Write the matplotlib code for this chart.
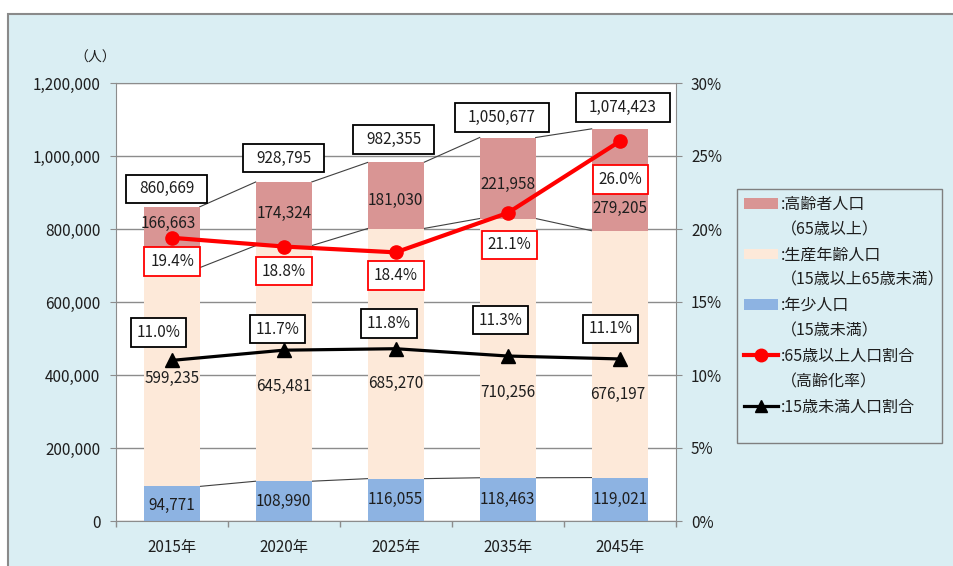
import matplotlib
matplotlib.use("Agg")
import matplotlib.pyplot as plt
from matplotlib.patches import Rectangle, Patch
from matplotlib.lines import Line2D
from matplotlib.ticker import FuncFormatter, FixedLocator
import numpy as np

plt.rcParams['font.family'] = ['Noto Sans CJK JP', 'DejaVu Sans']

# ---------------- data ----------------
years = ["2015年", "2020年", "2025年", "2035年", "2045年"]
young = [94771, 108990, 116055, 118463, 119021]          # 年少人口
working = [599235, 645481, 685270, 710256, 676197]       # 生産年齢人口
elderly = [166663, 174324, 181030, 221958, 279205]       # 高齢者人口
totals = [860669, 928795, 982355, 1050677, 1074423]
pct65 = [19.4, 18.8, 18.4, 21.1, 26.0]
pct15 = [11.0, 11.7, 11.8, 11.3, 11.1]
left_ticks = [0, 200000, 400000, 600000, 800000, 1000000, 1200000]
right_ticks = [0, 5, 10, 15, 20, 25, 30]
legend_main = [":高齢者人口", ":生産年齢人口", ":年少人口",
               ":65歳以上人口割合", ":15歳未満人口割合"]
legend_sub = ["（65歳以上）", "（15歳以上65歳未満）", "（15歳未満）",
              "（高齢化率）", None]
unit_label = "（人）"

# ---------------- style ----------------
W, H = 954, 566
DPI = 100
C_OLD = "#D99594"
C_WORK = "#FDE9D9"
C_YOUNG = "#8DB3E2"
C_BG = "#DAEEF3"
C_GRID = "#8C8C8C"
C_TEXT = "#1E1E1E"
FS = 11

fig = plt.figure(figsize=(W / DPI, H / DPI), dpi=DPI)
fig.patch.set_facecolor("white")
bg = Rectangle((8 / W, -0.5), 2.0, 1.5 - 13.5 / H, transform=fig.transFigure,
               facecolor=C_BG, edgecolor="#8A8A8A", lw=1.5, zorder=-5)
fig.add_artist(bg)

ax = fig.add_axes([115.7 / W, (H - 521) / H, 560 / W, 438 / H])
ax.set_facecolor("white")
ax2 = ax.twinx()
ax2.patch.set_visible(False)

x = np.arange(len(years))
bw = 0.5
b1 = np.array(young)
b2 = b1 + np.array(working)
b3 = b2 + np.array(elderly)

ax.bar(x, young, bw, color=C_YOUNG, zorder=2)
ax.bar(x, working, bw, bottom=b1, color=C_WORK, zorder=2)
ax.bar(x, elderly, bw, bottom=b2, color=C_OLD, zorder=2)

# series lines connecting bar segments
for level in (b1, b2, b3):
    for i in range(len(x) - 1):
        ax.plot([x[i] + bw / 2, x[i + 1] - bw / 2], [level[i], level[i + 1]],
                color="#404040", lw=0.8, zorder=1.5)

ax.set_xlim(-0.5, len(x) - 0.5)
ax.set_ylim(0, 1200000)
ax.yaxis.set_major_locator(FixedLocator(left_ticks))
ax.yaxis.set_major_formatter(FuncFormatter(lambda v, p: f"{int(v):,}"))
ax.grid(axis="y", color=C_GRID, lw=1, zorder=0)
ax.set_axisbelow(True)
ax.set_xticks(x)
ax.set_xticklabels(years)
ax.set_xticks(np.arange(-0.5, len(x)), minor=True)
ax.tick_params(axis="x", which="major", length=0, pad=13, labelsize=FS, labelcolor=C_TEXT)
ax.tick_params(axis="x", which="minor", length=4, color=C_GRID, width=1)
ax.tick_params(axis="y", length=4, pad=7, color=C_GRID, labelsize=FS, labelcolor=C_TEXT)
for s in ("left", "bottom", "top"):
    ax.spines[s].set_color(C_GRID)
ax.spines["right"].set_visible(False)

ax2.set_ylim(0, 30)
ax2.yaxis.set_major_locator(FixedLocator(right_ticks))
ax2.yaxis.set_major_formatter(FuncFormatter(lambda v, p: f"{int(v)}%"))
ax2.tick_params(axis="y", length=4, pad=7, color=C_GRID, labelsize=FS, labelcolor=C_TEXT)
for s in ("left", "bottom", "top"):
    ax2.spines[s].set_visible(False)
ax2.spines["right"].set_color(C_GRID)

ax2.plot(x, pct65, color="#FF0000", lw=3, marker="o", ms=9.5, zorder=5)
ax2.plot(x, pct15, color="black", lw=2.3, marker="^", ms=10, zorder=5)

PX = 72 / DPI  # pixel -> points

def lab(val_y, i, txt, dx, dy, trans, box=None):
    kw = {}
    if box is not None:
        kw["bbox"] = box
    ax2.annotate(txt, xy=(x[i], val_y), xycoords=trans,
                 xytext=(dx * PX, -dy * PX), textcoords="offset points",
                 ha="center", va="center", fontsize=FS, color=C_TEXT, zorder=10, **kw)

# totals (dx, px above top)
tot_off = [(-5, 18), (0, 24), (-2, 23), (-6, 20), (3, 21.5)]
for i in range(len(x)):
    dx, up = tot_off[i]
    lab(b3[i], i, f"{totals[i]:,}", dx, -up, ax.transData,
        dict(boxstyle="square,pad=0.85", mutation_aspect=0.45,
             facecolor="white", edgecolor="black", lw=1.3))

# elderly labels (px down from segment centre)
old_off = [(-3, -14), (0, 0), (0, 5), (0, 6), (0, 29)]
for i in range(len(x)):
    dx, dn = old_off[i]
    lab((b2[i] + b3[i]) / 2, i, f"{elderly[i]:,}", dx, dn, ax.transData)

work_off = [(0, 1), (0, 23), (0, 30), (0, 44), (-2, 40)]
for i in range(len(x)):
    dx, dn = work_off[i]
    lab((b1[i] + b2[i]) / 2, i, f"{working[i]:,}", dx, dn, ax.transData)

young_off = [(0, 2), (0, 0), (0, 0), (0, 0), (0, 0)]
for i in range(len(x)):
    dx, dn = young_off[i]
    lab(b1[i] / 2, i, f"{young[i]:,}", dx, dn, ax.transData)

red_off = [(0.5, 24), (0, 24.5), (0, 23), (2, 32), (1, 38)]
for i in range(len(x)):
    dx, dn = red_off[i]
    lab(pct65[i], i, f"{pct65[i]:.1f}%", dx, dn, ax2.transData,
        dict(boxstyle="square,pad=0.38", mutation_aspect=1.0,
             facecolor="white", edgecolor="#FF0000", lw=1.3))

blk_off = [(-13, 28), (-6, 21), (-7, 25), (-7, 36), (-9, 30)]
for i in range(len(x)):
    dx, up = blk_off[i]
    lab(pct15[i], i, f"{pct15[i]:.1f}%", dx, -up, ax2.transData,
        dict(boxstyle="square,pad=0.38", mutation_aspect=1.0,
             facecolor="white", edgecolor="black", lw=1.3))

fig.text(95 / W, 1 - 58 / H, unit_label, ha="center", va="center",
         fontsize=10, color=C_TEXT)

# legend: main rows carry the handle, sub rows have an invisible handle
LFS = 11.5
main_handles = [Patch(facecolor=C_OLD, edgecolor="none"),
                Patch(facecolor=C_WORK, edgecolor="none"),
                Patch(facecolor=C_YOUNG, edgecolor="none"),
                Line2D([], [], color="#FF0000", lw=3, marker="o", ms=9),
                Line2D([], [], color="black", lw=2.3, marker="^", ms=9)]
handles, labels = [], []
for h, m, s in zip(main_handles, legend_main, legend_sub):
    handles.append(h)
    labels.append(m)
    if s is not None:
        handles.append(Patch(facecolor="none", edgecolor="none"))
        labels.append(s)
leg = ax2.legend(handles, labels, loc="upper left",
                 bbox_to_anchor=(744 / W, 1 - 196 / H), bbox_transform=fig.transFigure,
                 frameon=False, fontsize=LFS, borderpad=0, borderaxespad=0,
                 handlelength=2.1, handleheight=0.65, handletextpad=0.2,
                 labelspacing=0.52)
for t in leg.get_texts():
    t.set_color(C_TEXT)
fig.add_artist(Rectangle((737 / W, 1 - 443 / H), 205 / W, 254 / H,
                         transform=fig.transFigure, fill=False,
                         edgecolor="#7F7F7F", lw=1, zorder=5))

fig.savefig("out.png", dpi=DPI)
